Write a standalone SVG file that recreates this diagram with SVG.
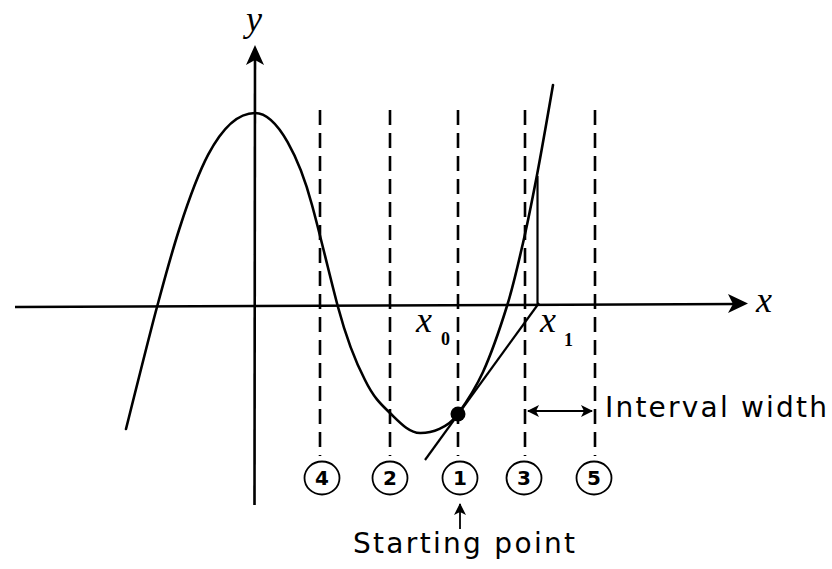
<svg xmlns="http://www.w3.org/2000/svg" width="832" height="569" viewBox="0 0 832 569">
<style>
.ax{stroke:#000;stroke-width:2.6;fill:none}
.dash{stroke:#000;stroke-width:2.6;stroke-dasharray:15 8;fill:none}
.curve{stroke:#000;stroke-width:2.6;fill:none;stroke-linecap:round}
.thin{stroke:#000;stroke-width:2.2;fill:none}
.circ{stroke:#000;stroke-width:1.8;fill:#fff}
.num{font-family:"DejaVu Sans","Liberation Sans",sans-serif;font-size:20px;font-weight:bold;text-anchor:middle}
.var{font-family:"Liberation Serif","Times New Roman",serif;font-style:italic;font-size:36px}
.sub{font-family:"Liberation Serif","Times New Roman",serif;font-size:18px;font-weight:bold}
.lbl{font-family:"DejaVu Sans","Liberation Sans",sans-serif;font-size:28px}
</style>
<defs>
<marker id="ah" viewBox="0 0 12 12" refX="11" refY="6" markerWidth="12" markerHeight="12" markerUnits="userSpaceOnUse" orient="auto-start-reverse">
<path d="M0,0 L12,6 L0,12 L3,6 Z" fill="#000"/>
</marker>
</defs>
<rect width="832" height="569" fill="#fff"/>
<g id="axes">
<line class="ax" x1="15" y1="307" x2="738" y2="304"/>
<path d="M748,303.5 L728,294 L733,304 L728,313 Z" fill="#000"/>
<line class="ax" x1="254.5" y1="505" x2="255" y2="56"/>
<path d="M255,45 L246,65 L255,60 L264,65 Z" fill="#000"/>
<text class="var" x="756" y="312">x</text>
<text class="var" x="246" y="31" font-size="33">y</text>
</g>
<g id="dashed-lines">
<line class="dash" x1="320" y1="110" x2="320" y2="456"/>
<line class="dash" x1="390" y1="110" x2="390" y2="456"/>
<line class="dash" x1="458" y1="110" x2="458" y2="456"/>
<line class="dash" x1="525" y1="110" x2="525" y2="456"/>
<line class="dash" x1="595" y1="110" x2="595" y2="456"/>
</g>
<g id="function-curve">
<path class="curve" d="M126,429 C131,409 151,329 157,307 C163,285 170,258 179,230 C192,190 216,113 255,113 C278,113 300,160 312,205 C321,238 332,285 338,307 C342,322 352,355 365,380 C373.7,397.7 380.8,404.2 390,413 C399.2,421.8 408.7,432.8 420,433 C431.3,433.2 448,428 458,414 C466,402.8 474.8,390 483,372 C491.2,354 500.3,327.5 507,306 C513.7,284.5 517.8,265.3 523,243 C528.2,220.7 532,201 537,175 C542,148.7 550.5,99.5 553,85"/>
</g>
<g id="connectors">
<line class="thin" x1="425" y1="460" x2="539" y2="303"/>
<line class="thin" x1="537.5" y1="305" x2="537.5" y2="176"/>
<line class="thin" x1="528" y1="411" x2="592" y2="411" marker-start="url(#ah)" marker-end="url(#ah)"/>
<line stroke="#000" stroke-width="1.8" x1="460" y1="529" x2="460" y2="504" marker-end="url(#ah)"/>
</g>
<g id="starting-dot">
<circle cx="458" cy="414" r="7.5" fill="#000"/>
</g>
<g id="x0-label">
<text class="var" x="416" y="332">x</text>
<text class="sub" x="441" y="345">0</text>
</g>
<g id="x1-label">
<text class="var" x="540" y="332">x</text>
<text class="sub" x="564" y="346">1</text>
</g>
<g id="circle-4"><ellipse class="circ" cx="322" cy="478" rx="17.5" ry="16.5"/><text class="num" x="322" y="485">4</text></g>
<g id="circle-2"><ellipse class="circ" cx="390" cy="478" rx="17.5" ry="16.5"/><text class="num" x="390" y="485">2</text></g>
<g id="circle-1"><ellipse class="circ" cx="460" cy="478" rx="17.5" ry="16.5"/><text class="num" x="460" y="485">1</text></g>
<g id="circle-3"><ellipse class="circ" cx="524" cy="478" rx="17.5" ry="16.5"/><text class="num" x="524" y="485">3</text></g>
<g id="circle-5"><ellipse class="circ" cx="594" cy="478" rx="17.5" ry="16.5"/><text class="num" x="594" y="485">5</text></g>
<g id="interval-width-label">
<text class="lbl" x="605" y="417" font-size="29" textLength="222" lengthAdjust="spacing">Interval width</text>
</g>
<g id="starting-point-label">
<text class="lbl" x="353" y="553" textLength="222" lengthAdjust="spacing">Starting point</text>
</g>
</svg>
